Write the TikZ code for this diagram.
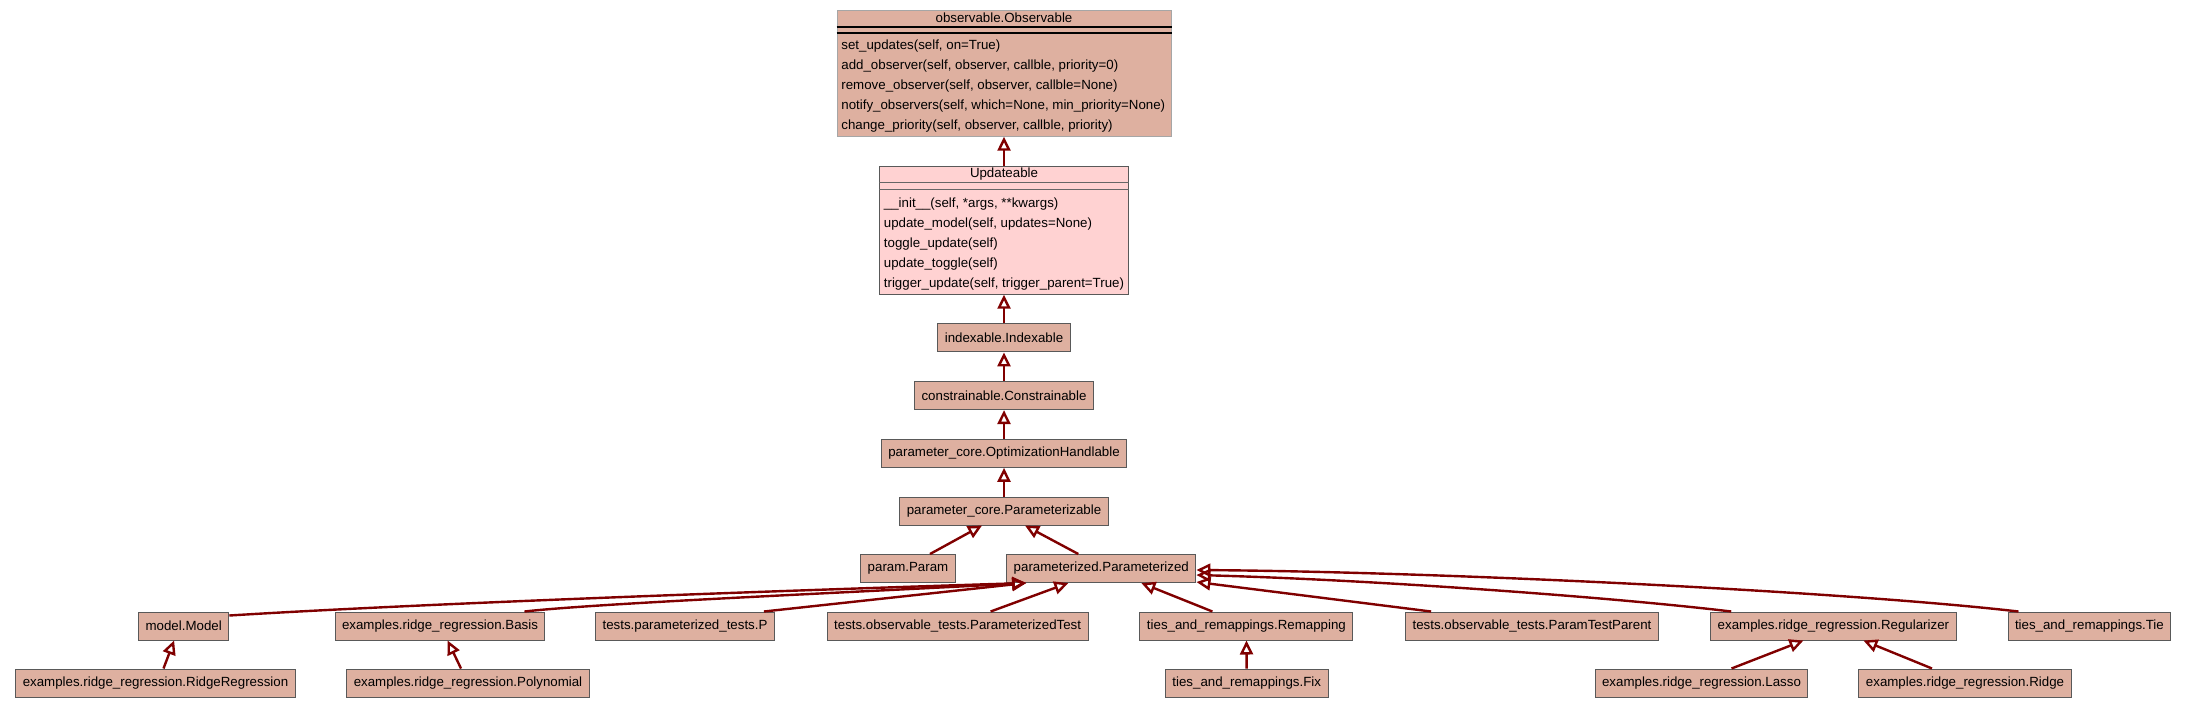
\documentclass[tikz,border=0pt]{standalone}
\usepackage{fontspec}
\setmainfont{Liberation Sans}
\usetikzlibrary{arrows.meta, positioning}

\definecolor{clsfill}{RGB}{222,176,160}
\definecolor{updfill}{RGB}{255,210,210}
\definecolor{inhcol}{RGB}{128,0,0}
\newcommand\clsfont{\fontsize{6.65pt}{8pt}\selectfont}

\begin{document}
\begin{tikzpicture}[
    x=0.5pt, y=-0.5pt,
    node distance=14.35pt,
    cls/.style  = {draw=black!65, fill=clsfill, line width=0.5pt, minimum height=14pt,
                   inner xsep=3.5pt, inner ysep=0pt, font=\clsfont},
    meth/.style = {inner sep=0pt, anchor=base west, font=\clsfont},
    sep/.style  = {draw=black, line width=0.8pt},
    inh/.style  = {draw=inhcol, line width=1.2pt, -{Triangle[open, length=7pt, width=6.5pt]}}
    ]
\path[use as bounding box, fill=white] (0,0) rectangle (2187,708);
%
% chain of base classes
\node[cls] (pzb) at (1004,511) {parameter\_core.Parameterizable};
\node[cls, above=of pzb] (opt) {parameter\_core.OptimizationHandlable};
\node[cls, above=of opt] (con) {constrainable.Constrainable};
\node[cls, above=of con] (idx) {indexable.Indexable};
\node[cls, fill=updfill, minimum width=124.5pt, minimum height=64pt, above=of idx] (upd) {};
\node[cls, draw=black!35, minimum width=167pt, minimum height=63pt, above=14.5pt of upd] (obs) {};
%
% observable.Observable
\node[meth, anchor=base] (obs-t) at ([yshift=-6.25pt]obs.north) {observable.Observable};
\draw[sep] ([yshift=-8.5pt]obs.north west) -- ([yshift=-8.5pt]obs.north east);
\draw[sep] ([yshift=-11.75pt]obs.north west) -- ([yshift=-11.75pt]obs.north east);
\foreach \m [count=\i, evaluate=\i as \dy using -10-10*\i] in
    {{set\_updates(self, on=True)},
     {add\_observer(self, observer, callble, priority=0)},
     {remove\_observer(self, observer, callble=None)},
     {notify\_observers(self, which=None, min\_priority=None)},
     {change\_priority(self, observer, callble, priority)}}
    \node[meth] (obs-m\i) at ([xshift=2.25pt, yshift=\dy pt]obs.north west) {\m};
%
% Updateable
\node[meth, anchor=base] (upd-t) at ([yshift=-6pt]upd.north) {Updateable};
\draw[sep, draw=black!60, line width=0.4pt] ([yshift=-8.5pt]upd.north west) -- ([yshift=-8.5pt]upd.north east);
\draw[sep, draw=black!60, line width=0.4pt] ([yshift=-12pt]upd.north west) -- ([yshift=-12pt]upd.north east);
\foreach \m [count=\i, evaluate=\i as \dy using -10.75-10*\i] in
    {{\_\_init\_\_(self, *args, **kwargs)},
     {update\_model(self, updates=None)},
     {toggle\_update(self)},
     {update\_toggle(self)},
     {trigger\_update(self, trigger\_parent=True)}}
    \node[meth] (upd-m\i) at ([xshift=2.25pt, yshift=\dy pt]upd.north west) {\m};
%
\node[cls] (prm) at (908,568.5)    {param.Param};
\node[cls] (pzd) at (1101.3,568.5) {parameterized.Parameterized};
%
% subclasses of parameterized.Parameterized
\node[cls] (model)   at (183.7,626)  {model.Model};
\node[cls] (basis)   at (440,626)    {examples.ridge\_regression.Basis};
\node[cls] (ptp)     at (685,626)    {tests.parameterized\_tests.P};
\node[cls] (ptest)   at (957.6,626)  {tests.observable\_tests.ParameterizedTest};
\node[cls] (remap)   at (1246.4,626) {ties\_and\_remappings.Remapping};
\node[cls] (tparent) at (1532,626)   {tests.observable\_tests.ParamTestParent};
\node[cls] (reg)     at (1833.4,626) {examples.ridge\_regression.Regularizer};
\node[cls] (tie)     at (2089.4,626) {ties\_and\_remappings.Tie};
%
\node[cls] (ridgereg) at (155.5,683)  {examples.ridge\_regression.RidgeRegression};
\node[cls] (poly)     at (468,683)    {examples.ridge\_regression.Polynomial};
\node[cls] (fix)      at (1246.7,683) {ties\_and\_remappings.Fix};
\node[cls] (lasso)    at (1701.5,683) {examples.ridge\_regression.Lasso};
\node[cls] (ridge)    at (1965,683)   {examples.ridge\_regression.Ridge};
%
% inheritance
\draw[inh] (upd.north) -- (obs.south);
\draw[inh] (idx) -- (upd);
\draw[inh] (con) -- (idx);
\draw[inh] (opt) -- (con);
\draw[inh] (pzb) -- (opt);
\draw[inh] ([xshift=11pt]prm.north) -- ([xshift=-11pt]pzb.south);
\draw[inh] ([xshift=-11.5pt]pzd.north) -- ([xshift=10.5pt]pzb.south);
%
\draw[inh] ([yshift=-2pt]model.north east) .. controls (430,603) and (800,590) .. ([xshift=10pt]pzd.south west);
\draw[inh] ([xshift=-10.5pt]basis.north east) .. controls (600,603) and (860,592) .. ([xshift=10pt]pzd.south west);
\draw[inh] ([xshift=-5.5pt]ptp.north east) -- ([xshift=10pt]pzd.south west);
\draw[inh] ([xshift=16.5pt]ptest.north) -- ([xshift=-16.5pt]pzd.south);
\draw[inh] ([xshift=-17pt]remap.north) -- ([xshift=20pt]pzd.south);
\draw[inh] ([xshift=13pt]tparent.north west) -- ([yshift=0.5pt]pzd.south east);
\draw[inh] ([xshift=10.5pt]reg.north west) .. controls (1620,598) and (1380,580) .. ([yshift=-3.25pt]pzd.east);
\draw[inh] ([xshift=5.5pt]tie.north west) .. controls (1850,592) and (1450,572) .. ([yshift=-0.75pt]pzd.east);
%
\draw[inh] ([xshift=4pt]ridgereg.north) -- ([xshift=-4.8pt]model.south);
\draw[inh] ([xshift=-3.5pt]poly.north) -- ([xshift=3.8pt]basis.south);
\draw[inh] (fix) -- (remap);
\draw[inh] ([xshift=15pt]lasso.north) -- ([xshift=-15pt]reg.south);
\draw[inh] ([xshift=-16.5pt]ridge.north) -- ([xshift=15pt]reg.south);
\end{tikzpicture}
\end{document}
